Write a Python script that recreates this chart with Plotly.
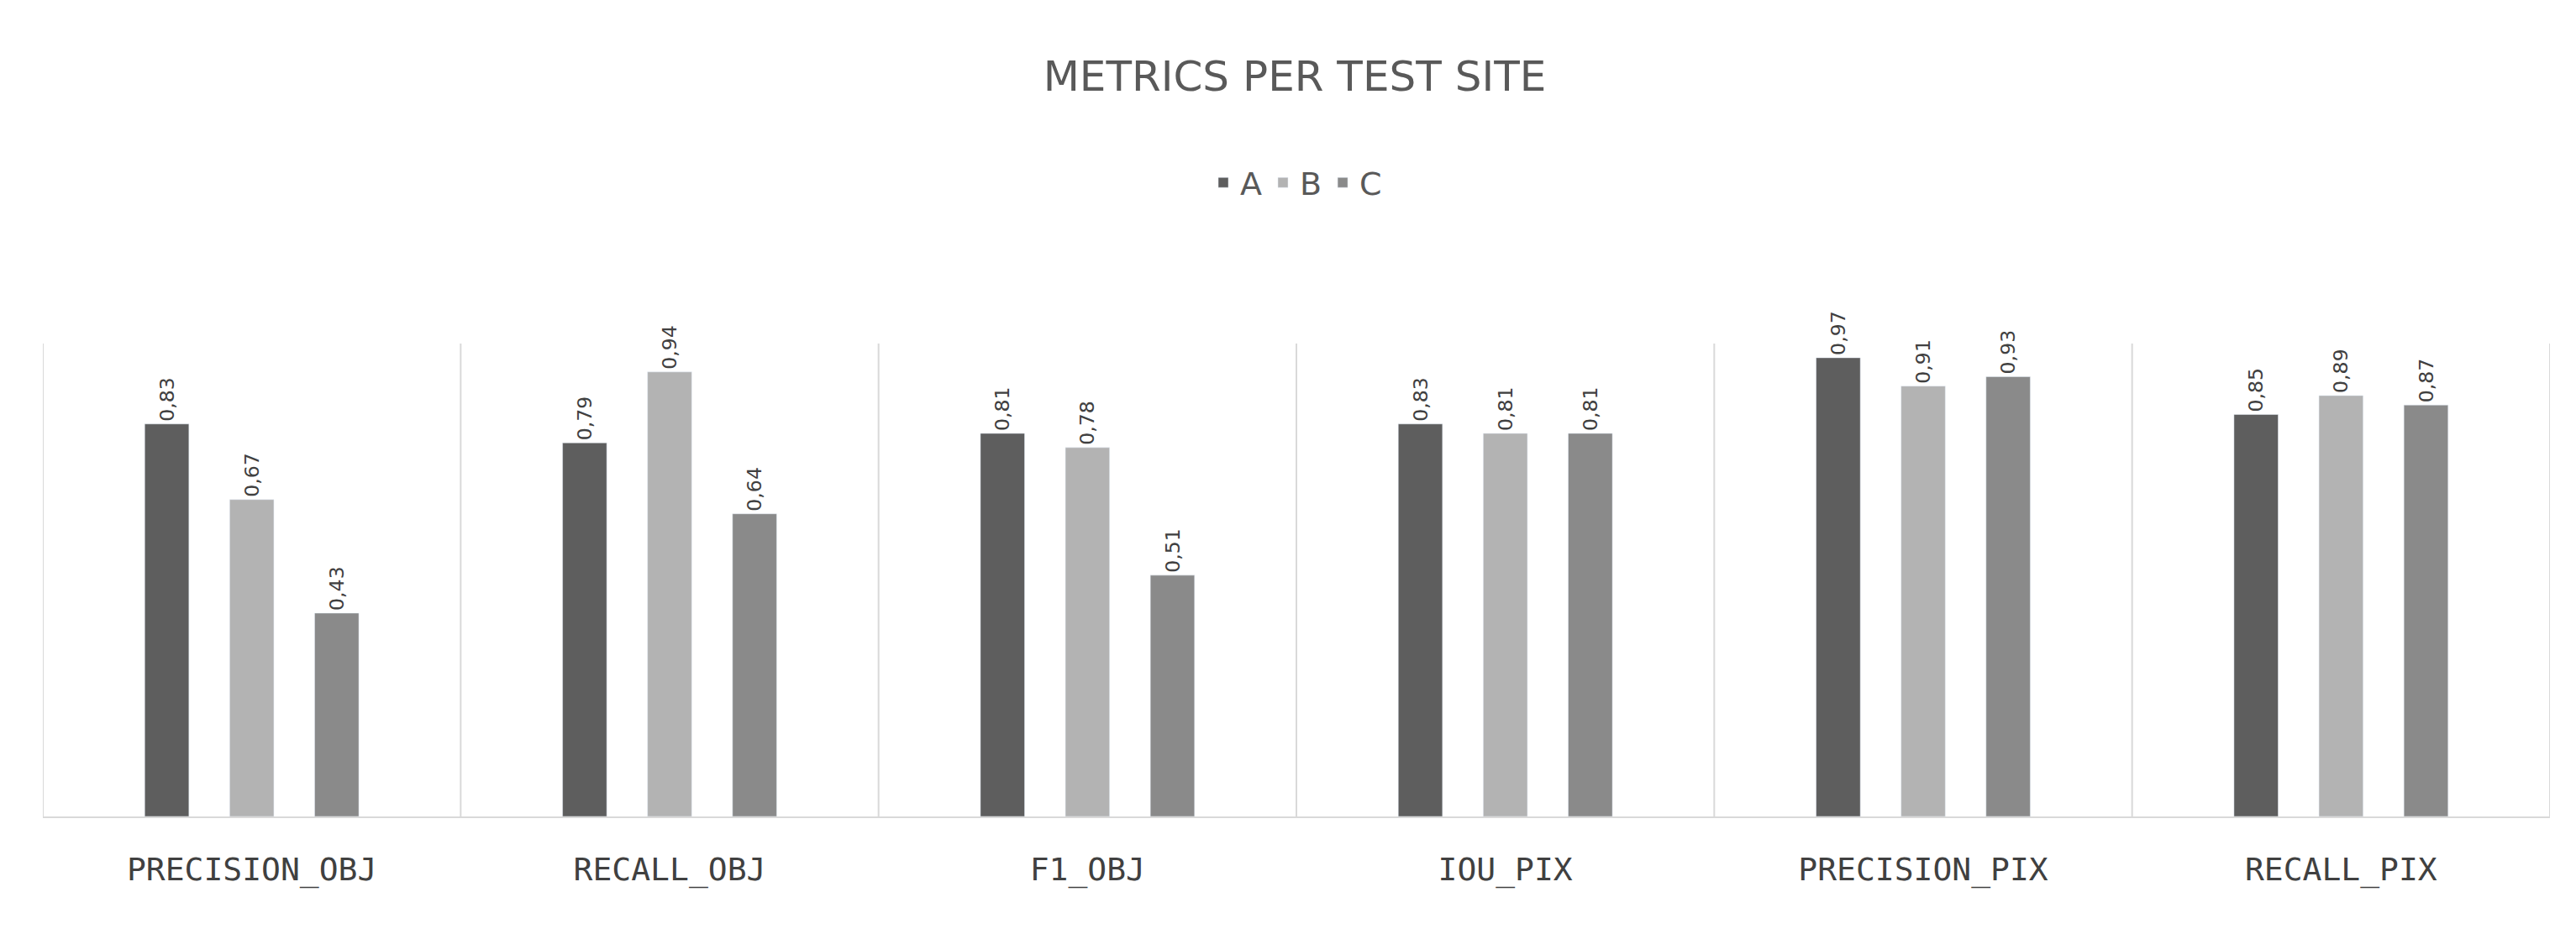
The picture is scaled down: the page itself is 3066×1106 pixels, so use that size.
import plotly.graph_objects as go

categories = ["PRECISION_OBJ", "RECALL_OBJ", "F1_OBJ", "IOU_PIX", "PRECISION_PIX", "RECALL_PIX"]
series_names = ["A", "B", "C"]
values_A = [0.83, 0.79, 0.81, 0.83, 0.97, 0.85]
values_B = [0.67, 0.94, 0.78, 0.81, 0.91, 0.89]
values_C = [0.43, 0.64, 0.51, 0.81, 0.93, 0.87]
colors = ["#5e5e5e", "#b3b3b3", "#8a8a8a"]

fig = go.Figure()
for name, vals, col in zip(series_names, [values_A, values_B, values_C], colors):
    fig.add_trace(go.Bar(
        x=categories, y=vals, name=name, marker_color=col,
        text=[f"{v:.2f}".replace(".", ",") for v in vals],
        textposition="outside", textangle=-90,
        textfont=dict(size=38, color="#404040", family="DejaVu Sans"),
        cliponaxis=False,
    ))

for i in range(len(categories) + 1):
    fig.add_shape(type="line", xref="x", yref="y", x0=i - 0.5, x1=i - 0.5, y0=0, y1=1.0,
                  line=dict(color="#d9d9d9", width=2), layer="below")

fig.update_layout(
    width=3066, height=1106,
    paper_bgcolor="white", plot_bgcolor="white",
    barmode="group", bargap=0.39, bargroupgap=0.48,
    title=dict(text="METRICS PER TEST SITE", x=0.5, xanchor="center", y=0.925, yanchor="middle",
               font=dict(size=50, color="#595959", family="DejaVu Sans")),
    legend=dict(orientation="h", x=0.5, xanchor="center", y=1.34, yanchor="middle",
                font=dict(size=38, color="#595959", family="DejaVu Sans")),
    margin=dict(l=43, r=39, t=401, b=142),
    xaxis=dict(showline=True, linecolor="#d9d9d9", linewidth=2, ticks="",
               tickfont=dict(size=38, color="#404040", family="DejaVu Sans Mono"),
               ticklabelstandoff=28, range=[-0.5, 5.5]),
    yaxis=dict(range=[0, 1.0], visible=False, showgrid=False),
)

fig.write_html("out.html")
